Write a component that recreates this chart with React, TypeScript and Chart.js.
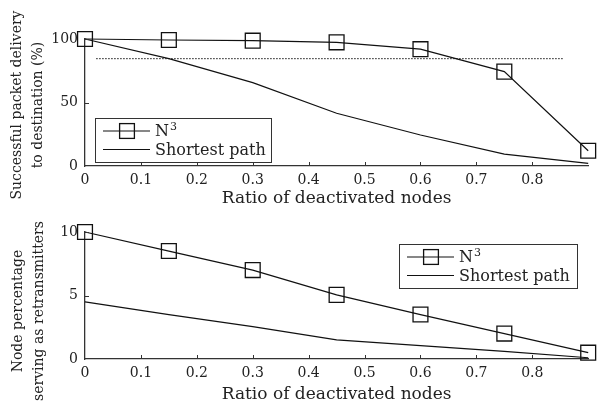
import { useEffect, useRef } from 'react';
import { Chart, registerables } from 'chart.js';

Chart.register(...registerables);

// ---------- data ----------
const ratios = [0, 0.15, 0.3, 0.45, 0.6, 0.75, 0.9];
const n3Delivery = [100, 99.2, 98.7, 97.4, 92, 74.3, 12];
const shortestDelivery = [100, 84.5, 65.6, 41.5, 24.4, 9.4, 2];
const thresholdX = [0.02, 0.855];
const thresholdValue = 84.5;
const n3Retrans = [10, 8.5, 7.0, 5.05, 3.5, 2.0, 0.5];
const shortestRetrans = [4.5, 3.5, 2.55, 1.5, 1.05, 0.6, 0.1];
const xTickValues = [0, 0.1, 0.2, 0.3, 0.4, 0.5, 0.6, 0.7, 0.8];
const deliveryTicks = [0, 50, 100];
const retransTicks = [0, 5, 10];
const xAxisTitle = 'Ratio of deactivated nodes';
const deliveryTitle = ['Successful packet delivery', 'to destination (%)'];
const retransTitle = ['Node percentage', 'serving as retransmitters'];
const seriesNames = ['N', 'Shortest path'];

// ---------- style ----------
const FONT = "'DejaVu Serif', serif";
const TEXT = '#222';
const AXIS = '#333';
const LINE = '#111';

type Cfg = {
  height: number;
  top: number;
  xAxisHeight: number;
  xTitlePad: number;
  yMax: number;
  yTicks: number[];
  n3: number[];
  sp: number[];
  threshold: boolean;
  yTitle: string[];
  yTitleX: number[];
  yTitleY: number;
  legend: { x: number; y: number; w: number; h: number };
};

function makeDecor(cfg: Cfg) {
  return {
    id: 'decor',
    afterDraw(chart: any) {
      const ctx = chart.ctx as CanvasRenderingContext2D;
      const xs = chart.scales.x;
      const ys = chart.scales.y;
      ctx.save();
      // inward tick marks
      ctx.strokeStyle = AXIS;
      ctx.lineWidth = 1;
      ctx.beginPath();
      xs.ticks.forEach((t: any) => {
        if (t.value === 0) return;
        const px = Math.round(xs.getPixelForValue(t.value)) + 0.5;
        ctx.moveTo(px, ys.bottom);
        ctx.lineTo(px, ys.bottom - 4);
      });
      ys.ticks.forEach((t: any) => {
        if (t.value === 0) return;
        const py = Math.round(ys.getPixelForValue(t.value)) + 0.5;
        ctx.moveTo(xs.left, py);
        ctx.lineTo(xs.left + 4, py);
      });
      ctx.stroke();

      // y title (two lines, rotated)
      ctx.fillStyle = TEXT;
      ctx.font = `14px ${FONT}`;
      ctx.textAlign = 'center';
      ctx.textBaseline = 'middle';
      cfg.yTitle.forEach((line, i) => {
        ctx.save();
        ctx.translate(cfg.yTitleX[i], cfg.yTitleY);
        ctx.rotate(-Math.PI / 2);
        ctx.fillText(line, 0, 0);
        ctx.restore();
      });

      // legend
      const L = cfg.legend;
      ctx.fillStyle = '#fff';
      ctx.fillRect(L.x, L.y, L.w, L.h);
      ctx.strokeStyle = AXIS;
      ctx.lineWidth = 1;
      ctx.strokeRect(L.x + 0.5, L.y + 0.5, L.w, L.h);
      const rows = [L.y + 13, L.y + 31.5];
      ctx.strokeStyle = LINE;
      ctx.lineWidth = 1.2;
      rows.forEach((ry) => {
        ctx.beginPath();
        ctx.moveTo(L.x + 8, ry);
        ctx.lineTo(L.x + 55, ry);
        ctx.stroke();
      });
      ctx.lineWidth = 1.3;
      ctx.strokeRect(L.x + 32 - 7.4, rows[0] - 7.4, 14.8, 14.8);
      ctx.fillStyle = TEXT;
      ctx.textAlign = 'left';
      ctx.textBaseline = 'middle';
      ctx.font = `16px ${FONT}`;
      ctx.fillText(seriesNames[0], L.x + 60, rows[0] + 1);
      const nw = ctx.measureText(seriesNames[0]).width;
      ctx.font = `11px ${FONT}`;
      ctx.fillText('3', L.x + 60 + nw + 1, rows[0] - 4);
      ctx.font = `16px ${FONT}`;
      ctx.fillText(seriesNames[1], L.x + 60, rows[1] + 1);
      ctx.restore();
    },
  };
}

function buildChart(canvas: HTMLCanvasElement, cfg: Cfg) {
  const datasets: any[] = [
    {
      data: ratios.map((x, i) => ({ x, y: cfg.n3[i] })),
      borderColor: LINE,
      borderWidth: 1.2,
      pointStyle: 'rect',
      pointRadius: 10.5,
      pointBorderWidth: 1.3,
      pointBorderColor: LINE,
      pointBackgroundColor: 'rgba(0,0,0,0)',
      clip: false,
      tension: 0,
    },
    {
      data: ratios.map((x, i) => ({ x, y: cfg.sp[i] })),
      borderColor: LINE,
      borderWidth: 1.2,
      pointRadius: 0,
      clip: false,
      tension: 0,
    },
  ];
  if (cfg.threshold) {
    datasets.push({
      data: thresholdX.map((x) => ({ x, y: thresholdValue })),
      borderColor: LINE,
      borderWidth: 1,
      borderDash: [1.5, 1.5],
      pointRadius: 0,
      clip: false,
    });
  }
  return new Chart(canvas, {
    type: 'line',
    data: { datasets },
    plugins: [makeDecor(cfg)],
    options: {
      animation: false,
      responsive: false,
      events: [],
      layout: { padding: { top: cfg.top, right: 8, left: 0, bottom: 0 } },
      plugins: { legend: { display: false }, tooltip: { enabled: false } },
      scales: {
        x: {
          type: 'linear',
          min: 0,
          max: 0.9,
          afterBuildTicks: (s: any) => {
            s.ticks = xTickValues.map((v) => ({ value: v }));
          },
          afterFit: (s: any) => {
            s.height = cfg.xAxisHeight;
          },
          grid: { display: false, drawTicks: false },
          border: { display: true, color: AXIS, width: 1.3 },
          ticks: {
            padding: 6,
            color: TEXT,
            font: { family: FONT, size: 14 },
            maxRotation: 0,
            autoSkip: false,
            callback: (v: any) => (v === 0 ? '0' : Number(v).toFixed(1)),
          },
          title: {
            display: true,
            text: xAxisTitle,
            color: TEXT,
            font: { family: FONT, size: 17 },
            padding: { top: 0, bottom: cfg.xTitlePad },
          },
        },
        y: {
          type: 'linear',
          min: 0,
          max: cfg.yMax,
          afterBuildTicks: (s: any) => {
            s.ticks = cfg.yTicks.map((v) => ({ value: v }));
          },
          afterFit: (s: any) => {
            s.width = 85;
          },
          grid: { display: false, drawTicks: false },
          border: { display: true, color: AXIS, width: 1.3 },
          ticks: {
            padding: 7,
            color: TEXT,
            font: { family: FONT, size: 14 },
            callback: (v: any) => String(v),
          },
        },
      },
    } as any,
  });
}

const topCfg: Cfg = {
  height: 210,
  top: 39,
  xAxisHeight: 44,
  xTitlePad: 1,
  yMax: 100,
  yTicks: deliveryTicks,
  n3: n3Delivery,
  sp: shortestDelivery,
  threshold: true,
  yTitle: deliveryTitle,
  yTitleX: [17, 38],
  yTitleY: 105,
  legend: { x: 95, y: 118, w: 176, h: 44 },
};

const bottomCfg: Cfg = {
  height: 198,
  top: 22,
  xAxisHeight: 49,
  xTitlePad: 3,
  yMax: 10,
  yTicks: retransTicks,
  n3: n3Retrans,
  sp: shortestRetrans,
  threshold: false,
  yTitle: retransTitle,
  yTitleX: [18, 39],
  yTitleY: 101,
  legend: { x: 399, y: 34, w: 178, h: 44 },
};

export default function App() {
  const topRef = useRef<HTMLCanvasElement>(null);
  const botRef = useRef<HTMLCanvasElement>(null);
  useEffect(() => {
    document.body.style.margin = '0';
    const a = buildChart(topRef.current!, topCfg);
    const b = buildChart(botRef.current!, bottomCfg);
    return () => {
      a.destroy();
      b.destroy();
    };
  }, []);
  return (
    <div style={{ position: 'absolute', left: 0, top: 0, width: 600, height: 408, background: '#fff' }}>
      <canvas ref={topRef} width={600} height={topCfg.height} style={{ display: 'block' }} />
      <canvas ref={botRef} width={600} height={bottomCfg.height} style={{ display: 'block' }} />
    </div>
  );
}
